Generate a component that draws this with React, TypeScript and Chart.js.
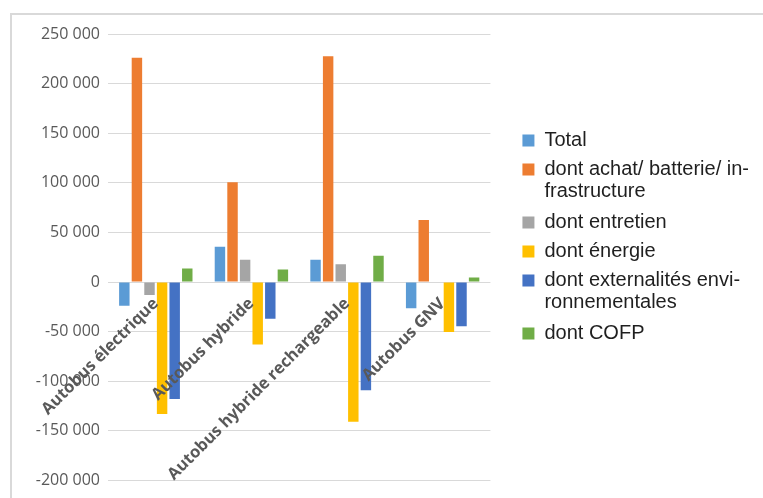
import { useEffect, useRef } from 'react';
import { Chart, registerables } from 'chart.js';

Chart.register(...registerables);

const categories = ['Autobus électrique', 'Autobus hybride', 'Autobus hybride rechargeable', 'Autobus GNV'];
const totalValues = [-24000, 35500, 22500, -26500];
const achatValues = [226000, 100500, 227500, 62500];
const entretienValues = [-13000, 22500, 18000, 0];
const energieValues = [-133000, -63000, -141000, -50500];
const externalitesValues = [-118000, -37000, -109000, -44500];
const cofpValues = [13500, 12500, 26500, 4500];

const seriesLabels: (string | string[])[] = [
  'Total',
  ['dont achat/ batterie/ in-', 'frastructure'],
  'dont entretien',
  'dont énergie',
  ['dont externalités envi-', 'ronnementales'],
  'dont COFP',
];
const seriesColors = ['#5B9BD5', '#ED7D31', '#A5A5A5', '#FFC000', '#4472C4', '#70AD47'];

const yMin = -200000;
const yMax = 250000;
const yStep = 50000;

const formatTick = (v: number) => {
  const s = String(Math.abs(Math.round(v))).replace(/\B(?=(\d{3})+(?!\d))/g, ' ');
  return (v < 0 ? '-' : '') + s;
};

const borderPlugin = {
  id: 'outerBorder',
  beforeDraw(chart: any) {
    const ctx = chart.ctx;
    ctx.save();
    ctx.strokeStyle = '#d9d9d9';
    ctx.lineWidth = 2;
    ctx.beginPath();
    ctx.moveTo(11, chart.height);
    ctx.lineTo(11, 14);
    ctx.lineTo(chart.width, 14);
    ctx.stroke();
    ctx.restore();
  },
};

export default function App() {
  const ref = useRef<HTMLCanvasElement | null>(null);

  useEffect(() => {
    if (!ref.current) return;
    const values = [totalValues, achatValues, entretienValues, energieValues, externalitesValues, cofpValues];
    const chart = new Chart(ref.current, {
      type: 'bar',
      data: {
        labels: categories,
        datasets: values.map((d, i) => ({
          label: seriesLabels[i] as any,
          data: d,
          backgroundColor: seriesColors[i],
          borderWidth: 0,
          categoryPercentage: 0.79,
          barPercentage: 0.83,
        })),
      },
      options: {
        responsive: false,
        animation: false,
        layout: { padding: { left: 0, top: 34, right: 4, bottom: 13 } },
        scales: {
          x: {
            position: { y: 0 } as any,
            grid: { display: false },
            border: { display: false },
            ticks: {
              z: 1,
              autoSkip: false,
              maxRotation: 45,
              minRotation: 45,
              padding: 4,
              color: '#595959',
              font: { family: "'Open Sans', sans-serif", size: 16.5, weight: 'bold' },
            },
            afterFit: (s: any) => { s.height = 0; },
          },
          y: {
            min: yMin,
            max: yMax,
            grid: { color: '#d9d9d9', drawTicks: false, lineWidth: 1 },
            border: { display: false },
            ticks: {
              stepSize: yStep,
              padding: 8,
              color: '#595959',
              font: { family: "'Open Sans', sans-serif", size: 16 },
              callback: (v: any) => formatTick(Number(v)),
            },
            afterFit: (s: any) => { s.width = 108; },
          },
          yR: {
            position: 'right',
            display: true,
            grid: { display: false },
            border: { display: false },
            ticks: { display: false },
            afterFit: (s: any) => { s.width = 23; },
          },
        },
        plugins: {
          tooltip: { enabled: false },
          legend: {
            position: 'right',
            align: 'start',
            maxWidth: 320,
            title: { display: true, text: ' ', font: { size: 12 }, padding: { top: 0, bottom: 73 } },
            labels: {
              boxWidth: 12,
              boxHeight: 12,
              padding: 9,
              color: '#1f1f1f',
              font: { family: "'Liberation Sans', Arial, sans-serif", size: 20, lineHeight: 1.1 },
            },
          },
        },
      },
      plugins: [borderPlugin],
    });
    return () => chart.destroy();
  }, []);

  return (
    <div style={{ position: 'absolute', left: 0, top: 0, width: 763, height: 498, background: '#fff' }}>
      <canvas ref={ref} width={763} height={498} />
    </div>
  );
}
